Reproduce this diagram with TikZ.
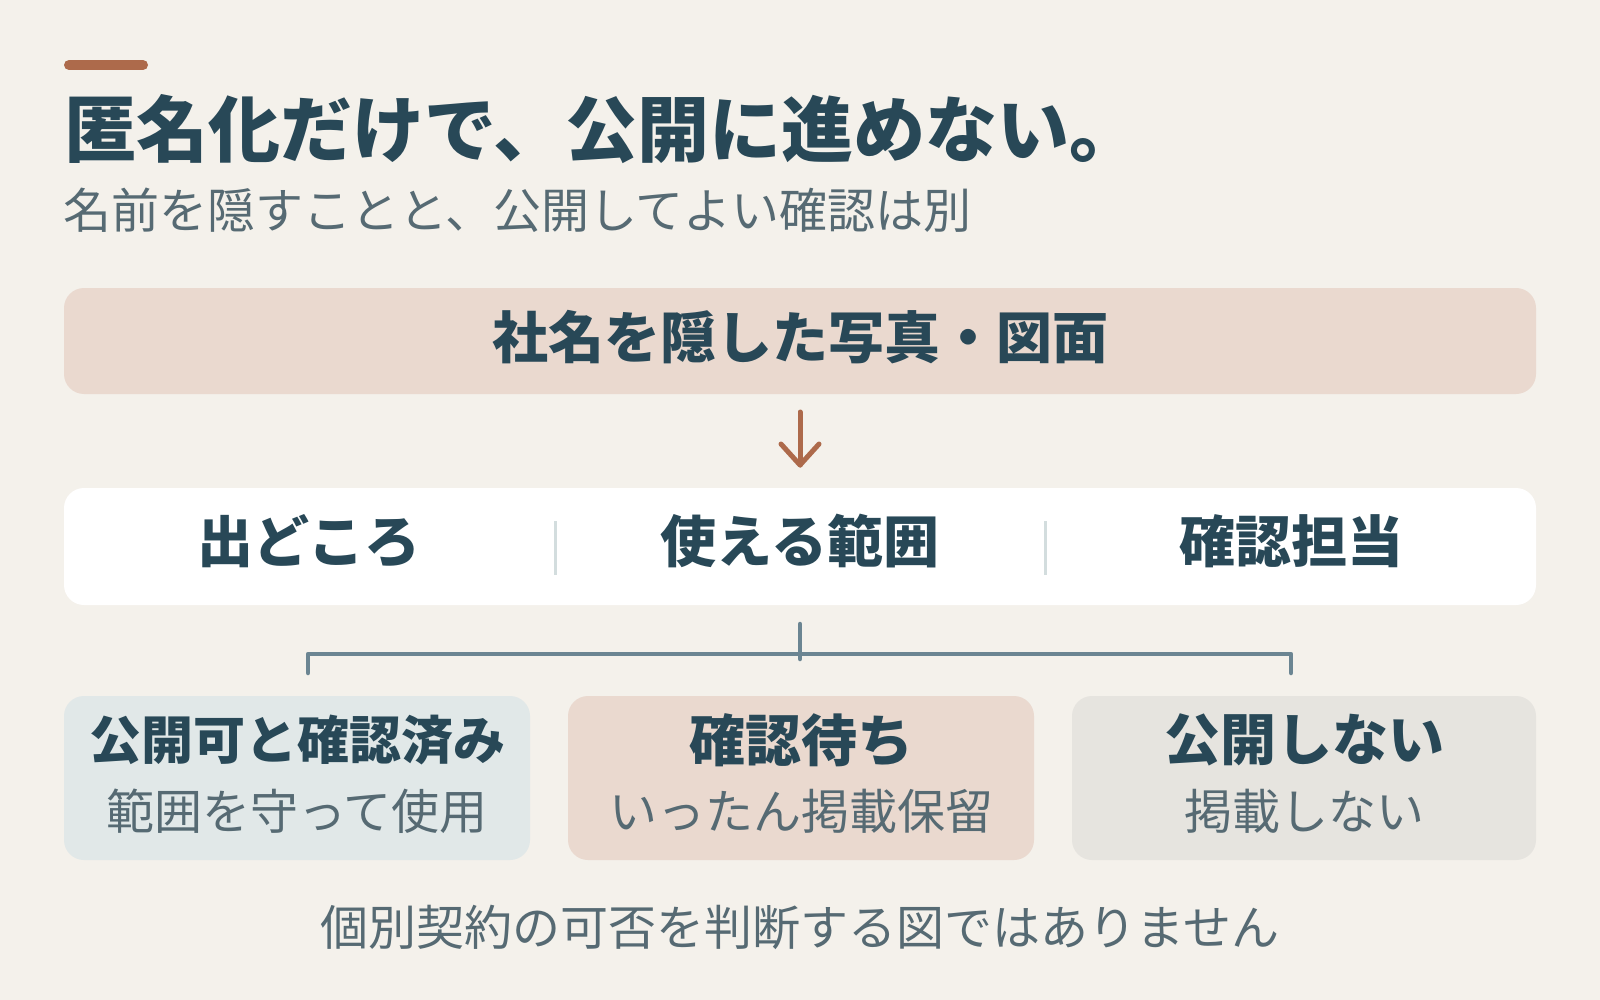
\documentclass[tikz,border=0pt]{standalone}
\usepackage{fontspec}
\newfontfamily\jp{Noto Sans CJK JP}
\definecolor{bg}{HTML}{F4F1EB}
\definecolor{accent}{HTML}{AD6A4B}
\definecolor{ink}{HTML}{284857}
\definecolor{muted}{HTML}{566A73}
\definecolor{peach}{HTML}{EAD9CF}
\definecolor{bluegray}{HTML}{E1E8E8}
\definecolor{stone}{HTML}{E6E4DF}
\definecolor{divider}{HTML}{D3DDDE}
\definecolor{conn}{HTML}{6B8592}
\begin{document}
\begin{tikzpicture}[x=1pt,y=-1pt,
  box/.style={rounded corners=20pt,draw=none},
  boldtxt/.style={inner sep=0pt,text=ink,font=\jp\bfseries\fontsize{#1}{#1}\selectfont},
  lighttxt/.style={inner sep=0pt,text=muted,font=\jp\fontsize{#1}{#1}\selectfont},
  connector/.style={draw=conn,line width=4.5pt,line cap=round,line join=round},
  arrowline/.style={draw=accent,line width=5pt,line cap=round,line join=round}]
\fill[bg] (0,0) rectangle (1600,1000);
\useasboundingbox (0,0) rectangle (1600,1000);
% accent bar
\coordinate (barL) at (69,65);
\coordinate (barR) at (143,65);
\draw[accent,line width=10pt,line cap=round] (barL) -- (barR);
% title
\node[boldtxt=72,anchor=base west] (title) at (64,157) {匿名化だけで、公開に進めない。};
\node[lighttxt=48,anchor=base west] (subtitle) at (63,229) {名前を隠すことと、公開してよい確認は別};
% top box
\fill[box,peach] (64,288) rectangle (1536,394);
\node[boldtxt=56] (top) at (800,337) {社名を隠した写真・図面};
% arrow
\coordinate (arrTop) at (800,412);
\coordinate (arrTip) at (800,465);
\coordinate (arrL) at (781,444);
\coordinate (arrR) at (819,444);
\draw[arrowline] (arrTop) -- (arrTip);
\draw[arrowline] (arrL) -- (arrTip) -- (arrR);
% middle box
\fill[box,white] (64,488) rectangle (1536,605);
\draw[divider,line width=3pt] (555,521) -- (555,575);
\draw[divider,line width=3pt] (1045,521) -- (1045,575);
\node[boldtxt=56] (src) at (309,541) {出どころ};
\node[boldtxt=56] (scope) at (800,541) {使える範囲};
\node[boldtxt=56] (owner) at (1291,541) {確認担当};
% connector
\coordinate (cTop) at (800,624);
\coordinate (cMid) at (800,659);
\coordinate (cL) at (308,654);
\coordinate (cR) at (1291,654);
\coordinate (cLd) at (308,673);
\coordinate (cRd) at (1291,673);
\draw[connector] (cLd) -- (cL) -- (cR) -- (cRd);
\draw[connector] (cTop) -- (cMid);
% bottom boxes
\fill[box,bluegray] (64,696) rectangle (530,860);
\fill[box,peach] (568,696) rectangle (1034,860);
\fill[box,stone] (1072,696) rectangle (1536,860);
\node[boldtxt=52] (t1) at (297,740) {公開可と確認済み};
\node[lighttxt=48] (s1) at (297,811) {範囲を守って使用};
\node[boldtxt=56] (t2) at (801,740) {確認待ち};
\node[lighttxt=48] (s2) at (801,811) {いったん掲載保留};
\node[boldtxt=56] (t3) at (1304,740) {公開しない};
\node[lighttxt=48] (s3) at (1304,811) {掲載しない};
% footer
\node[lighttxt=48] (foot) at (800,927) {個別契約の可否を判断する図ではありません};
\end{tikzpicture}
\end{document}
